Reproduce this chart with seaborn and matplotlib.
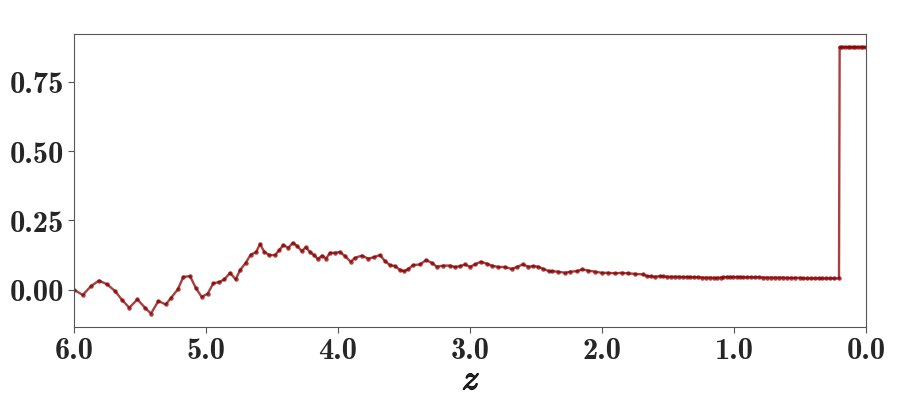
import matplotlib
matplotlib.use("Agg")
import matplotlib.pyplot as plt
import matplotlib.patheffects as pe
import seaborn as sns
import pandas as pd
import numpy as np

# values (z runs from 6 down to 0)
z = [6.0, 5.934, 5.871, 5.811, 5.748, 5.689, 5.634, 5.581, 5.520, 5.462,
     5.417, 5.361, 5.305, 5.265, 5.214, 5.172, 5.121, 5.078, 5.033, 4.987,
     4.945, 4.899, 4.861, 4.818, 4.775, 4.742, 4.699, 4.661, 4.621, 4.591,
     4.558, 4.520, 4.477, 4.445, 4.414, 4.377, 4.343, 4.308, 4.275, 4.245,
     4.212, 4.182, 4.154, 4.119, 4.091, 4.061, 4.023, 3.985, 3.947, 3.904,
     3.871, 3.820, 3.770, 3.725, 3.682, 3.644, 3.606, 3.568, 3.530, 3.498,
     3.467, 3.430, 3.379, 3.333, 3.290, 3.252, 3.202, 3.152, 3.114, 3.076,
     3.038, 3.000, 2.962, 2.919, 2.873, 2.836, 2.786, 2.735, 2.684, 2.646,
     2.601, 2.558, 2.520, 2.483, 2.445, 2.402, 2.381, 2.331, 2.280, 2.242,
     2.192, 2.149, 2.104, 2.053, 2.002, 1.952, 1.902, 1.851, 1.801, 1.750,
     1.687, 1.661, 1.630, 1.598, 1.561, 1.535, 1.510, 1.480, 1.450, 1.420,
     1.390, 1.360, 1.333, 1.300, 1.270, 1.240, 1.210, 1.180, 1.155, 1.131,
     1.100, 1.080, 1.055, 1.030, 1.005, 0.980, 0.955, 0.930, 0.900, 0.870,
     0.840, 0.810, 0.780, 0.750, 0.720, 0.690, 0.660, 0.630, 0.600, 0.570,
     0.540, 0.500, 0.475, 0.450, 0.420, 0.390, 0.360, 0.330, 0.300, 0.270,
     0.240, 0.205,
     0.200, 0.180, 0.160, 0.140, 0.120, 0.100, 0.080, 0.060, 0.040, 0.020,
     0.001]
signal = [0.000, -0.019, 0.013, 0.033, 0.019, -0.005, -0.038, -0.065, -0.035, -0.065,
          -0.086, -0.041, -0.053, -0.029, 0.001, 0.046, 0.049, 0.007, -0.026, -0.014,
          0.023, 0.028, 0.037, 0.061, 0.037, 0.071, 0.097, 0.127, 0.135, 0.165,
          0.136, 0.125, 0.125, 0.143, 0.161, 0.151, 0.169, 0.157, 0.139, 0.153,
          0.136, 0.125, 0.111, 0.123, 0.112, 0.133, 0.133, 0.136, 0.121, 0.101,
          0.115, 0.123, 0.112, 0.118, 0.125, 0.103, 0.089, 0.085, 0.071, 0.067,
          0.075, 0.089, 0.091, 0.107, 0.097, 0.083, 0.087, 0.087, 0.082, 0.085,
          0.091, 0.083, 0.091, 0.101, 0.094, 0.087, 0.082, 0.082, 0.075, 0.082,
          0.091, 0.083, 0.085, 0.083, 0.075, 0.067, 0.067, 0.065, 0.061, 0.065,
          0.067, 0.073, 0.069, 0.065, 0.061, 0.061, 0.059, 0.061, 0.059, 0.057,
          0.055, 0.049, 0.048, 0.047, 0.049, 0.048, 0.047, 0.047, 0.047, 0.047,
          0.046, 0.046, 0.046, 0.045, 0.045, 0.044, 0.044, 0.044, 0.043, 0.043,
          0.044, 0.045, 0.046, 0.046, 0.046, 0.046, 0.046, 0.045, 0.045, 0.045,
          0.045, 0.045, 0.044, 0.044, 0.044, 0.044, 0.044, 0.044, 0.043, 0.043,
          0.043, 0.043, 0.041, 0.041, 0.041, 0.041, 0.041, 0.041, 0.041, 0.041,
          0.041, 0.041,
          0.875, 0.875, 0.875, 0.875, 0.875, 0.875, 0.875, 0.875, 0.875, 0.875,
          0.875]
xticks = [6.0, 5.0, 4.0, 3.0, 2.0, 1.0, 0.0]
yticks = [0.0, 0.25, 0.5, 0.75]

df = pd.DataFrame({"z": z, "signal": signal})

sns.set_style("white")
plt.rcParams["axes.edgecolor"] = "#555555"
plt.rcParams["axes.unicode_minus"] = False

fig = plt.figure(figsize=(8.97, 4.14), dpi=100)
ax = fig.add_axes([0.0825, 0.208, 0.883, 0.708])

sns.lineplot(data=df, x="z", y="signal", ax=ax, color="#8b0000",
             estimator=None, sort=True, lw=1.7, alpha=0.75,
             marker="o", markersize=3.2, markeredgewidth=0,
             markerfacecolor="#8b0000")

ax.set_xlim(6.0, 0.0)
ax.set_xticks(xticks)
ax.set_yticks(yticks)
ax.set_xticklabels(["%.1f" % t for t in xticks], fontsize=22, family="cmb10")
ax.set_yticklabels(["%.2f" % t for t in yticks], fontsize=22, family="cmb10")
ax.tick_params(axis="both", direction="out", length=4, width=0.8,
               color="#555555", bottom=True, left=True, pad=3)
ax.set_xlabel("z", fontsize=25, family="cmmi10", labelpad=1,
              path_effects=[pe.withStroke(linewidth=1.0, foreground="black")])
ax.set_ylabel("")
for s in ax.spines.values():
    s.set_linewidth(0.8)

fig.savefig("out.png", dpi=100)
